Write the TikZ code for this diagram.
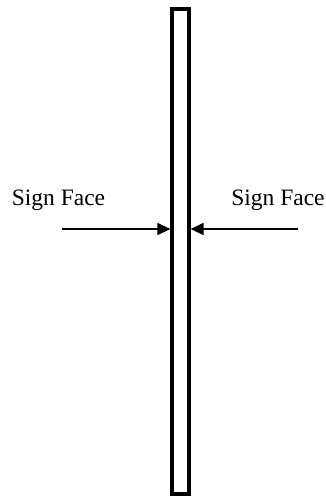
\documentclass[tikz,border=0pt]{standalone}
\usepackage{fontspec}
\setmainfont{Liberation Serif}
\usetikzlibrary{arrows.meta}
\begin{document}
\begin{tikzpicture}[x=1pt,y=1pt,
  panel/.style={draw=black,line width=3.2pt,minimum width=17pt,minimum height=485pt,inner sep=0pt},
  facelabel/.style={font=\fontsize{23.5}{26}\selectfont,anchor=base,inner sep=0pt},
  facearrow/.style={line width=1.3pt,-{Triangle[length=13pt,width=12pt]}}]
\useasboundingbox (0,0) rectangle (326,496);
% thin sign panel seen edge-on
\node[panel] (sign) at (180.5,244.5) {};
% labels for the two faces
\node[facelabel] (lbl) at (58.5,290) {Sign Face};
\node[facelabel] (rbl) at (278,290) {Sign Face};
% arrow tails
\coordinate (ltail) at (62,267);
\coordinate (rtail) at (298,267);
\draw[facearrow] (ltail) -- (ltail -| sign.west);
\draw[facearrow] (rtail) -- (rtail -| sign.east);
\end{tikzpicture}
\end{document}
